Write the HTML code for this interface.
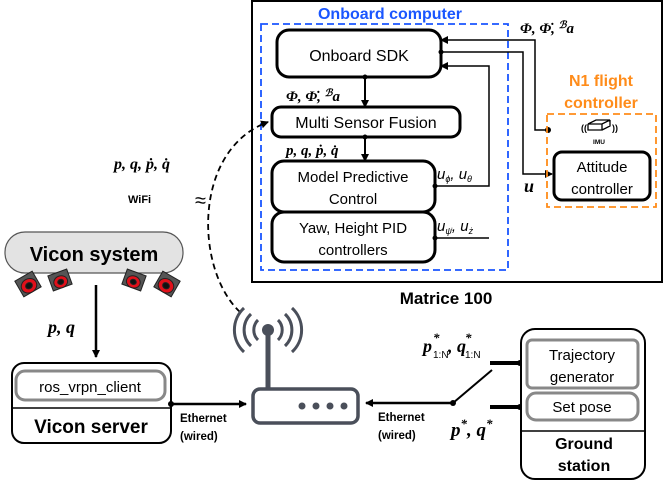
<!DOCTYPE html>
<html><head><style>
body{margin:0;background:#fff;}
svg{display:block;}
text{font-family:"Liberation Sans",sans-serif;}
.m{font-family:"Liberation Serif",serif;font-style:italic;font-weight:bold;}
</style></head><body>
<svg width="664" height="481" viewBox="0 0 664 481" xmlns="http://www.w3.org/2000/svg">
<defs>
<marker id="a" markerWidth="8" markerHeight="8" refX="7" refY="4" orient="auto" markerUnits="userSpaceOnUse"><path d="M0,0 L8,4 L0,8 z" fill="#000"/></marker>
</defs>
<!-- Matrice -->
<rect x="252" y="1" width="410" height="281" fill="none" stroke="#000" stroke-width="2"/>
<text x="446" y="304" font-size="17" font-weight="bold" text-anchor="middle">Matrice 100</text>
<rect x="261" y="24" width="247" height="246" fill="none" stroke="#1a56ff" stroke-width="1.8" stroke-dasharray="7,4"/>
<text x="390" y="19" font-size="16" font-weight="bold" fill="#1a56ff" text-anchor="middle">Onboard computer</text>
<rect x="277" y="30" width="164" height="47" rx="12" fill="#fff" stroke="#000" stroke-width="3"/>
<text x="359" y="61" font-size="16" text-anchor="middle">Onboard SDK</text>
<rect x="272" y="107" width="188" height="30" rx="9" fill="#fff" stroke="#000" stroke-width="3"/>
<text x="366" y="128" font-size="16" text-anchor="middle">Multi Sensor Fusion</text>
<rect x="272" y="161" width="163" height="51" rx="12" fill="#fff" stroke="#000" stroke-width="3"/>
<text x="353" y="182" font-size="15" text-anchor="middle">Model Predictive</text>
<text x="353" y="204" font-size="15" text-anchor="middle">Control</text>
<rect x="272" y="212" width="163" height="50" rx="12" fill="#fff" stroke="#000" stroke-width="3"/>
<text x="353" y="233" font-size="15" text-anchor="middle">Yaw, Height PID</text>
<text x="353" y="255" font-size="15" text-anchor="middle">controllers</text>
<!-- internal arrows -->
<line x1="365" y1="77" x2="365" y2="107" stroke="#000" stroke-width="2" marker-end="url(#a)"/>
<circle cx="365" cy="77" r="2.5"/>
<line x1="365" y1="137" x2="365" y2="161" stroke="#000" stroke-width="2" marker-end="url(#a)"/>
<circle cx="365" cy="137" r="2.5"/>
<text x="286" y="101" class="m" font-size="15">Φ, Φ̇, <tspan font-size="10" dy="-5">ℬ</tspan><tspan dy="5">a</tspan></text>
<text x="286" y="155" class="m" font-size="15">p, q, ṗ, q̇</text>
<polyline points="435,186 489,186 489,66 441,66" fill="none" stroke="#000" stroke-width="1.5" marker-end="url(#a)"/>
<line x1="435" y1="238" x2="489" y2="238" stroke="#000" stroke-width="1.5"/>
<circle cx="435" cy="186" r="2.5"/><circle cx="435" cy="238" r="2.5"/>
<text x="437" y="179" font-family="Liberation Serif" font-style="italic" font-size="15">u<tspan font-size="9" dy="3">ϕ</tspan><tspan dy="-3">, u</tspan><tspan font-size="9" dy="3">θ</tspan></text>
<text x="437" y="231" font-family="Liberation Serif" font-style="italic" font-size="15">u<tspan font-size="9" dy="3">ψ̇</tspan><tspan dy="-3">, u</tspan><tspan font-size="9" dy="3">ż</tspan></text>
<!-- right side -->
<polyline points="548,130 535,130 535,40 441,40" fill="none" stroke="#000" stroke-width="1.5" marker-end="url(#a)"/>
<circle cx="548" cy="130" r="3"/>
<polyline points="441,52 523,52 523,174 552,174" fill="none" stroke="#000" stroke-width="1.5" marker-end="url(#a)"/>
<circle cx="441" cy="52" r="2.5"/>
<text x="520" y="33" class="m" font-size="15">Φ, Φ̇, <tspan font-size="10" dy="-5">ℬ</tspan><tspan dy="5">a</tspan></text>
<text x="524" y="192" class="m" font-size="18">u</text>
<rect x="547" y="114" width="109" height="93" fill="none" stroke="#ff8c1a" stroke-width="1.8" stroke-dasharray="7,4"/>
<text x="601" y="86" font-size="16" font-weight="bold" fill="#ff8c1a" text-anchor="middle">N1 flight</text>
<text x="601" y="108" font-size="16" font-weight="bold" fill="#ff8c1a" text-anchor="middle">controller</text>
<path d="M588,124 l8,-4 h14 l-8,4 z M588,124 v6 h14 v-6 M602,130 l8,-4 v-6" fill="#fff" stroke="#000" stroke-width="1.3"/>
<text x="581" y="131" font-size="9" font-weight="bold">((</text><text x="612" y="131" font-size="9" font-weight="bold">))</text>
<text x="599" y="144" font-size="6.5" font-weight="bold" text-anchor="middle">IMU</text>
<rect x="554" y="152" width="96" height="48" rx="8" fill="#fff" stroke="#000" stroke-width="3"/>
<text x="602" y="172" font-size="15" text-anchor="middle">Attitude</text>
<text x="602" y="194" font-size="15" text-anchor="middle">controller</text>
<!-- wifi link -->
<path d="M240,312 C195,270 192,150 268,122" fill="none" stroke="#000" stroke-width="1.8" stroke-dasharray="6,4" marker-end="url(#a)"/>
<text x="114" y="169" class="m" font-size="16">p, q, ṗ, q̇</text>
<text x="128" y="203" font-size="11" font-weight="bold">WiFi</text>
<text x="195" y="207" font-size="20">≈</text>
<!-- Vicon system -->
<rect x="5" y="232" width="178" height="41" rx="20" fill="#e3e3e3" stroke="#555" stroke-width="1.2"/>
<text x="94" y="261" font-size="20" font-weight="bold" text-anchor="middle">Vicon system</text>
<g stroke="#222" stroke-width="1">
<g transform="translate(28,284) rotate(-30)"><rect x="-10" y="-9" width="20" height="18" fill="#555"/><ellipse cx="0" cy="2" rx="8" ry="7" fill="#e0101a"/><ellipse cx="0" cy="2" rx="3.5" ry="3" fill="#111"/></g>
<g transform="translate(60,280) rotate(-20)"><rect x="-10" y="-8" width="20" height="16" fill="#555"/><ellipse cx="0" cy="2" rx="7" ry="6" fill="#e0101a"/><ellipse cx="0" cy="2" rx="3" ry="2.5" fill="#111"/></g>
<g transform="translate(134,280) rotate(20)"><rect x="-10" y="-8" width="20" height="16" fill="#555"/><ellipse cx="0" cy="2" rx="7" ry="6" fill="#e0101a"/><ellipse cx="0" cy="2" rx="3" ry="2.5" fill="#111"/></g>
<g transform="translate(167,284) rotate(30)"><rect x="-10" y="-9" width="20" height="18" fill="#555"/><ellipse cx="0" cy="2" rx="8" ry="7" fill="#e0101a"/><ellipse cx="0" cy="2" rx="3.5" ry="3" fill="#111"/></g>
</g>
<line x1="96" y1="285" x2="96" y2="357" stroke="#000" stroke-width="2.5" marker-end="url(#a)"/>
<text x="48" y="333" class="m" font-size="18">p, q</text>
<!-- Vicon server -->
<rect x="12" y="363" width="159" height="80" rx="12" fill="#fff" stroke="#000" stroke-width="2"/>
<line x1="12" y1="408" x2="171" y2="408" stroke="#000" stroke-width="1.5"/>
<rect x="16" y="371" width="149" height="29" rx="9" fill="#fff" stroke="#888" stroke-width="3"/>
<text x="90" y="392" font-size="15" text-anchor="middle">ros_vrpn_client</text>
<text x="91" y="433" font-size="19" font-weight="bold" text-anchor="middle">Vicon server</text>
<line x1="171" y1="404" x2="246" y2="404" stroke="#000" stroke-width="2.5" marker-end="url(#a)"/>
<circle cx="171" cy="404" r="3"/>
<text x="180" y="422" font-size="11.5" font-weight="bold">Ethernet</text>
<text x="180" y="440" font-size="11.5" font-weight="bold">(wired)</text>
<!-- router -->
<g stroke="#4a4f5a" fill="none" stroke-width="3">
<line x1="268" y1="330" x2="268" y2="388" stroke-width="5"/>
<path d="M258,320 a14,14 0 0 0 0,20 M278,320 a14,14 0 0 1 0,20"/>
<path d="M251,314 a22,22 0 0 0 0,32 M285,314 a22,22 0 0 1 0,32"/>
<path d="M244,308 a30,30 0 0 0 0,44 M292,308 a30,30 0 0 1 0,44"/>
<rect x="253" y="389" width="105" height="34" rx="7" stroke-width="3.5"/>
</g>
<circle cx="268" cy="330" r="6" fill="#4a4f5a"/>
<g fill="#4a4f5a"><circle cx="302" cy="406" r="3.5"/><circle cx="316" cy="406" r="3.5"/><circle cx="330" cy="406" r="3.5"/><circle cx="344" cy="406" r="3.5"/></g>
<!-- right ethernet -->
<line x1="453" y1="403" x2="366" y2="403" stroke="#000" stroke-width="2.5" marker-end="url(#a)"/>
<circle cx="453" cy="403" r="3"/>
<line x1="453" y1="403" x2="492" y2="370" stroke="#000" stroke-width="2"/>
<line x1="490" y1="363" x2="520" y2="363" stroke="#000" stroke-width="4"/>
<line x1="490" y1="407" x2="520" y2="407" stroke="#000" stroke-width="4"/>
<circle cx="520" cy="363" r="3"/><circle cx="520" cy="407" r="3"/>
<text x="378" y="421" font-size="11.5" font-weight="bold">Ethernet</text>
<text x="378" y="439" font-size="11.5" font-weight="bold">(wired)</text>
<text x="423" y="352" class="m" font-size="18">p</text>
<text x="433" y="342" class="m" font-size="13">*</text>
<text x="433" y="358" font-family="Liberation Serif" font-size="10">1:N</text>
<text x="448" y="352" class="m" font-size="18">, q</text>
<text x="465" y="342" class="m" font-size="13">*</text>
<text x="465" y="358" font-family="Liberation Serif" font-size="10">1:N</text>
<text x="451" y="436" class="m" font-size="19">p<tspan font-size="13" dy="-8">*</tspan><tspan dy="8">, q</tspan><tspan font-size="13" dy="-8">*</tspan></text>
<!-- ground station -->
<rect x="521" y="329" width="124" height="150" rx="14" fill="#fff" stroke="#000" stroke-width="2"/>
<line x1="521" y1="431" x2="645" y2="431" stroke="#000" stroke-width="1.5"/>
<rect x="527" y="340" width="111" height="48" rx="5" fill="#fff" stroke="#888" stroke-width="3"/>
<text x="582" y="360" font-size="15" text-anchor="middle">Trajectory</text>
<text x="582" y="382" font-size="15" text-anchor="middle">generator</text>
<rect x="527" y="393" width="111" height="27" rx="9" fill="#fff" stroke="#888" stroke-width="3"/>
<text x="582" y="412" font-size="15" text-anchor="middle">Set pose</text>
<text x="584" y="449" font-size="16" font-weight="bold" text-anchor="middle">Ground</text>
<text x="584" y="471" font-size="16" font-weight="bold" text-anchor="middle">station</text>
</svg>
</body></html>
